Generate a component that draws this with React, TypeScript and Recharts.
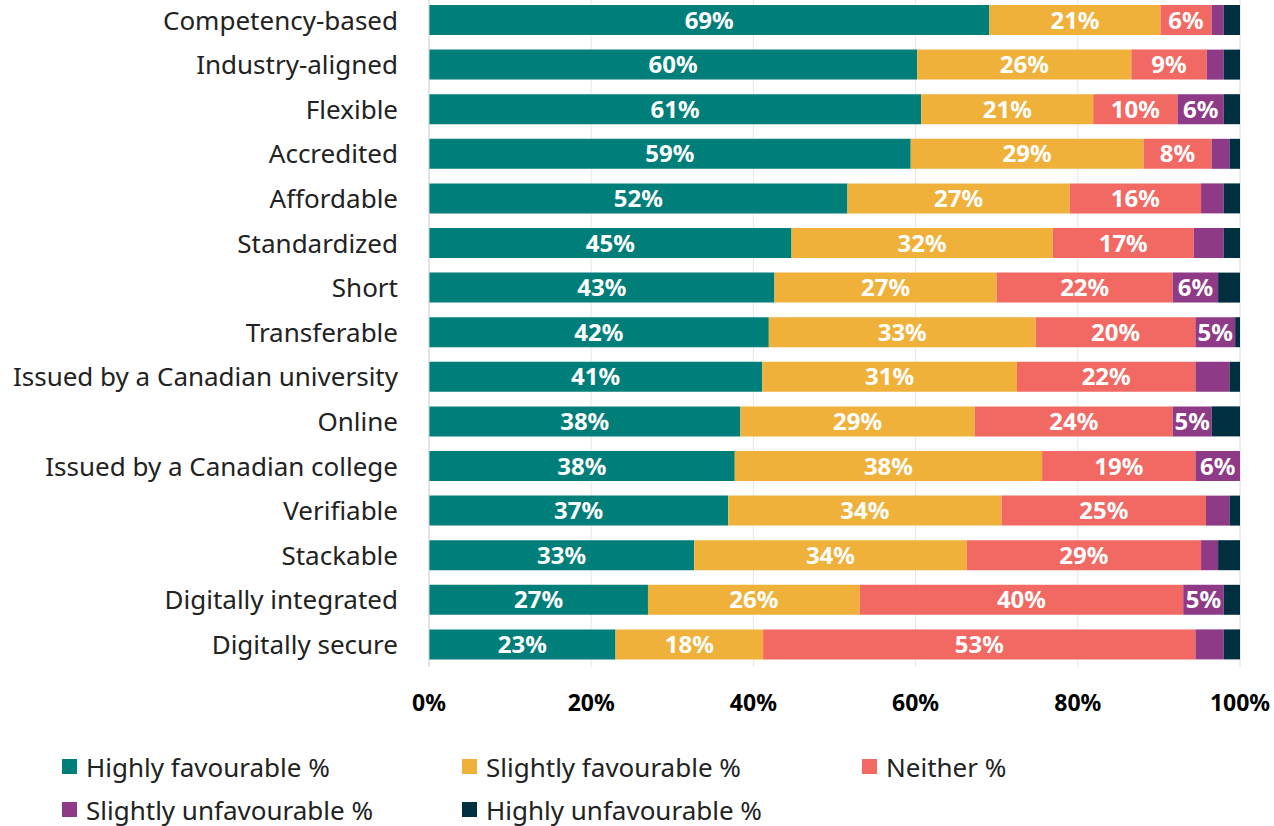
import { Bar, BarChart, CartesianGrid, LabelList, Legend, XAxis, YAxis } from "recharts";

const categories = [
  "Competency-based",
  "Industry-aligned",
  "Flexible",
  "Accredited",
  "Affordable",
  "Standardized",
  "Short",
  "Transferable",
  "Issued by a Canadian university",
  "Online",
  "Issued by a Canadian college",
  "Verifiable",
  "Stackable",
  "Digitally integrated",
  "Digitally secure",
];
const highlyFav = [69.1, 60.2, 60.7, 59.4, 51.6, 44.7, 42.6, 41.9, 41.1, 38.4, 37.7, 36.9, 32.7, 27.0, 23.0];
const slightlyFav = [21.1, 26.4, 21.2, 28.7, 27.4, 32.2, 27.4, 32.9, 31.4, 28.9, 37.9, 33.7, 33.6, 26.1, 18.2];
const neither = [6.3, 9.3, 10.4, 8.4, 16.2, 17.4, 21.7, 19.7, 22.0, 24.4, 18.9, 25.2, 28.9, 39.9, 53.3];
const slightlyUnfav = [1.5, 2.1, 5.7, 2.2, 2.8, 3.7, 5.6, 4.9, 4.2, 4.8, 5.5, 2.9, 2.1, 5.0, 3.5];
const highlyUnfav = [2.0, 2.0, 2.0, 1.3, 2.0, 2.0, 2.7, 0.6, 1.3, 3.5, 0, 1.3, 2.7, 2.0, 2.0];
const xTicks = [0, 20, 40, 60, 80, 100];

const series = [
  { key: "hf", name: "Highly favourable %", values: highlyFav, color: "#007f7a" },
  { key: "sf", name: "Slightly favourable %", values: slightlyFav, color: "#f0b13a" },
  { key: "ne", name: "Neither %", values: neither, color: "#f26862" },
  { key: "su", name: "Slightly unfavourable %", values: slightlyUnfav, color: "#8e3a86" },
  { key: "hu", name: "Highly unfavourable %", values: highlyUnfav, color: "#00303f" },
];

const data = categories.map((name, i) => {
  const row: Record<string, string | number> = { name };
  series.forEach((s) => (row[s.key] = s.values[i]));
  return row;
});

const FONT = "'Noto Sans', sans-serif";

const renderLegend = () => (
  <div
    style={{
      display: "flex",
      flexWrap: "wrap",
      paddingLeft: 62,
      width: 1274,
      height: 81,
      boxSizing: "border-box",
      fontFamily: FONT,
      fontSize: 26,
      color: "#222",
    }}
  >
    {series.map((s) => (
      <div key={s.key} style={{ width: 400, height: 43, display: "flex", alignItems: "center" }}>
        <span style={{ width: 15, height: 15, background: s.color, marginRight: 9, display: "inline-block" }} />
        <span>{s.name}</span>
      </div>
    ))}
  </div>
);

const App = () => (
  <div style={{ position: "absolute", left: 0, top: -2 }}>
    <BarChart
      width={1274}
      height={828}
      data={data}
      layout="vertical"
      margin={{ top: 0, right: 34, bottom: 0, left: 0 }}
      barSize={30}
    >
      <CartesianGrid horizontal={false} stroke="#e6e6e6" />
      <XAxis
        type="number"
        domain={[0, 100]}
        ticks={xTicks}
        tickFormatter={(v) => `${v}%`}
        axisLine={false}
        tickLine={false}
        tickSize={0}
        tickMargin={28}
        height={78}
        tick={{ fill: "#000", fontSize: 23, fontWeight: 700, fontFamily: FONT }}
      />
      <YAxis
        type="category"
        dataKey="name"
        width={429}
        tickLine={false}
        tickSize={0}
        tickMargin={31}
        axisLine={{ stroke: "#d4d4d4" }}
        tick={{ fill: "#222", fontSize: 26, fontFamily: FONT }}
        interval={0}
      />
      <Legend verticalAlign="bottom" content={renderLegend} />
      {series.map((s) => (
        <Bar key={s.key} dataKey={s.key} name={s.name} stackId="a" fill={s.color} isAnimationActive={false}>
          <LabelList
            dataKey={s.key}
            position="center"
            fill="#fff"
            fontSize={24}
            fontWeight={700}
            fontFamily={FONT}
            formatter={(v: any) => (Number(v) >= 4.5 ? `${Math.round(Number(v))}%` : "")}
          />
        </Bar>
      ))}
    </BarChart>
  </div>
);

export default App;
